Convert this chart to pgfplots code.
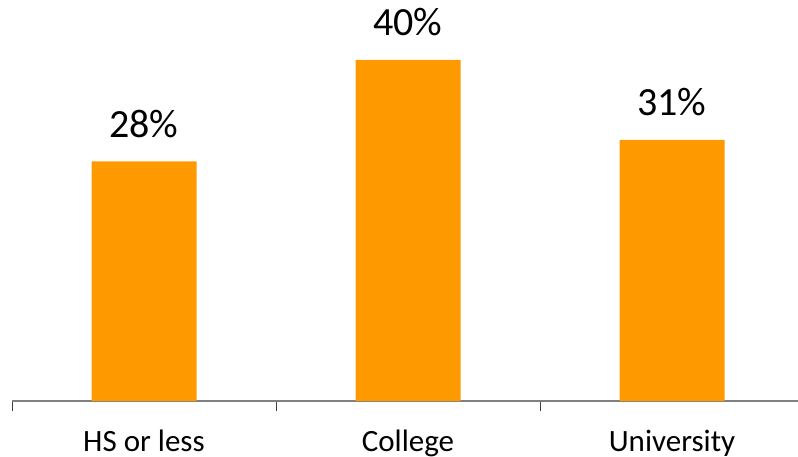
\documentclass[border=0pt]{standalone}
\usepackage{fontspec}
\setmainfont{Carlito}
\usepackage{pgfplots}
\pgfplotsset{compat=1.18}
\definecolor{barorange}{RGB}{255,153,0}
\definecolor{axisgray}{RGB}{128,128,128}
\begin{document}
\begin{tikzpicture}
\begin{axis}[
  at={(12pt,55pt)}, anchor=south west,
  scale only axis,
  x=264pt, y=8.53pt,
  xmin=-0.5, xmax=2.5, ymin=0, ymax=47,
  axis x line*=bottom, axis y line=none,
  x axis line style={draw=axisgray, line width=1.4pt},
  xtick={-0.5,0.5,1.5,2.5},
  xticklabels={},
  tick align=outside,
  major tick length=10pt,
  xtick style={draw=black!75, line width=0.9pt},
  extra x ticks={0,1,2},
  extra x tick labels={HS or less, College, University},
  extra x tick style={major tick length=0pt, xtick style={draw=none},
    xticklabel style={anchor=base, yshift=-50pt, font=\fontsize{31}{31}\selectfont}},
  ybar, bar width=105pt,
  point meta=explicit symbolic,
  nodes near coords,
  every node near coord/.append style={anchor=base, yshift=24pt, font=\fontsize{40}{40}\selectfont, text=black, inner sep=0pt},
  clip=false,
]
\addplot[fill=barorange, draw=none] coordinates {(0,28.1) [28\%] (1,40) [40\%] (2,30.6) [31\%]};
\end{axis}
\pgfresetboundingbox
\path[use as bounding box] (0,0) rectangle (798pt,456pt);
\end{tikzpicture}
\end{document}
